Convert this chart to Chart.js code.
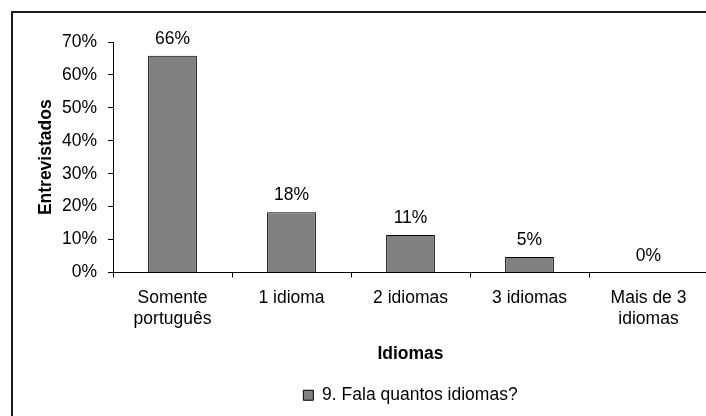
<!DOCTYPE html>
<html>
<head>
<meta charset="utf-8">
<script src="https://cdn.jsdelivr.net/npm/chart.js@4/dist/chart.umd.min.js"></script>
<style>
  html, body { margin: 0; padding: 0; background: #fff; overflow: hidden; width: 706px; height: 416px; }
  #frame { position: absolute; left: 11px; top: 11px; width: 800px; height: 500px; border: 2px solid #1a1a1a; box-sizing: border-box; }
  #chart { position: absolute; left: 0; top: 0; }
</style>
</head>
<body>
<div id="frame"></div>
<canvas id="chart" width="712" height="416"></canvas>
<script>
// data
const categories = [['Somente', 'português'], '1 idioma', '2 idiomas', '3 idiomas', ['Mais de 3', 'idiomas']]
const values = [65.8, 18.3, 11.4, 4.7, 0]
const seriesName = '9. Fala quantos idiomas?'
const yTicks = [0, 10, 20, 30, 40, 50, 60, 70]

const FONT = "'Liberation Sans', Arial, sans-serif"
const BAR_GRAY = '#808080'

// draws the value above each bar
const valueLabels = {
  id: 'valueLabels',
  afterDatasetsDraw(chart) {
    let ctx = chart.ctx
    let meta = chart.getDatasetMeta(0)
    ctx.save()
    ctx.font = `17.5px ${FONT}`
    ctx.fillStyle = '#000'
    ctx.textAlign = 'center'
    ctx.textBaseline = 'alphabetic'
    meta.data.forEach((bar, i) => {
      ctx.fillText(Math.round(values[i]) + '%', bar.x, bar.y - 12)
    })
    ctx.restore()
  }
}

let ctx = document.getElementById('chart').getContext('2d')
let chart = new Chart(ctx, {
  type: 'bar',
  data: {
    labels: categories,
    datasets: [{
      label: seriesName,
      data: values,
      backgroundColor: BAR_GRAY,
      borderColor: '#000',
      borderWidth: 1,
      barPercentage: 0.41,
      categoryPercentage: 1.0
    }]
  },
  options: {
    responsive: false,
    animation: false,
    devicePixelRatio: 1,
    layout: { padding: { left: 0, top: 42, right: 4, bottom: 2 } },
    plugins: {
      tooltip: { enabled: false },
      legend: {
        position: 'bottom',
        fullSize: false,
        labels: {
          font: { family: FONT, size: 17.5 },
          color: '#000',
          boxWidth: 10,
          boxHeight: 10,
          padding: 10,
          generateLabels: (c) => [{
            text: seriesName,
            fillStyle: BAR_GRAY,
            strokeStyle: '#000',
            lineWidth: 1,
            datasetIndex: 0
          }]
        }
      }
    },
    scales: {
      x: {
        border: { color: '#000', width: 1 },
        grid: { display: true, drawOnChartArea: false, drawTicks: true, tickLength: 5, color: '#000', offset: true },
        ticks: { font: { family: FONT, size: 17.5, lineHeight: 1.15 }, color: '#000', padding: 11, maxRotation: 0, autoSkip: false },
        title: { display: true, text: 'Idiomas', color: '#000', font: { family: FONT, size: 17.5, weight: 'bold' }, padding: { top: 0, bottom: 11.5 } },
        afterFit: (scale) => { scale.height = 104 }
      },
      y: {
        min: 0,
        max: 70,
        border: { color: '#000', width: 1 },
        grid: { display: true, drawOnChartArea: false, drawTicks: true, tickLength: 5, color: '#000' },
        afterBuildTicks: (scale) => { scale.ticks = yTicks.map(v => ({ value: v })) },
        ticks: { font: { family: FONT, size: 17.5 }, color: '#000', padding: 11, callback: (v) => v + '%' },
        title: { display: true, text: 'Entrevistados', color: '#000', font: { family: FONT, size: 17.5, weight: 'bold' }, padding: { top: 36, bottom: 0 } },
        afterFit: (scale) => { scale.width = 113 }
      }
    }
  },
  plugins: [valueLabels]
})
</script>
</body>
</html>
